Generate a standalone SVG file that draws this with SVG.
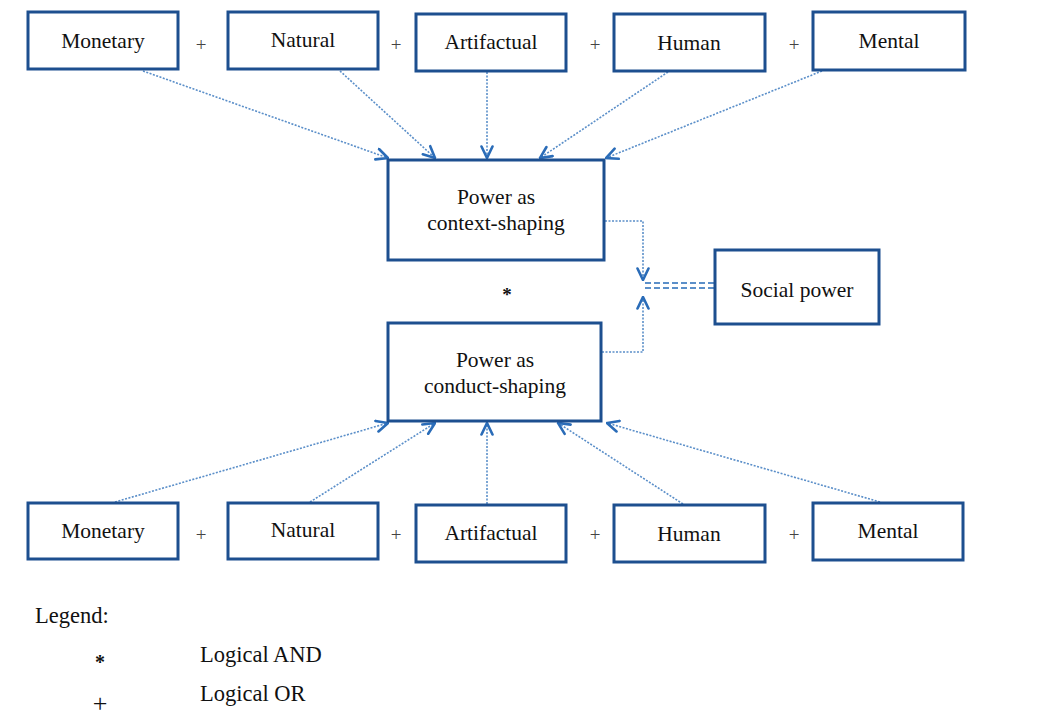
<svg xmlns="http://www.w3.org/2000/svg" width="1039" height="717" viewBox="0 0 1039 717">
<defs>
<style>
.box{fill:#fff;stroke:#1d4f8f;stroke-width:3}
.t{font-family:"Liberation Serif","Times New Roman",serif;font-size:21.5px;fill:#111;text-anchor:middle}
.op{font-family:"Liberation Serif","Times New Roman",serif;font-size:19px;fill:#444;text-anchor:middle}
.lg{font-family:"Liberation Serif","Times New Roman",serif;font-size:22.5px;fill:#111}
.c{fill:none;stroke:#5b8fc9;stroke-width:1.6;stroke-dasharray:2 1.5}
.d{fill:none;stroke:#5b8fc9;stroke-width:1.8;stroke-dasharray:6 3}
</style>
<marker id="ah" viewBox="0 0 14 14" refX="13" refY="7" markerWidth="14" markerHeight="14" markerUnits="userSpaceOnUse" orient="auto">
<path d="M1.5,1.5 L13,7 L1.5,12.5" fill="none" stroke="#2a6cb8" stroke-width="2.6" stroke-linecap="round"/>
</marker>
</defs>
<rect width="1039" height="717" fill="#fff"/>

<g id="connectors">
<line class="c" x1="143" y1="71" x2="388" y2="158" marker-end="url(#ah)"/>
<line class="c" x1="340" y1="71" x2="435" y2="158" marker-end="url(#ah)"/>
<line class="c" x1="487" y1="72" x2="487" y2="158" marker-end="url(#ah)"/>
<line class="c" x1="668" y1="72" x2="540" y2="158" marker-end="url(#ah)"/>
<line class="c" x1="822" y1="71" x2="606" y2="158" marker-end="url(#ah)"/>
<line class="c" x1="115" y1="502" x2="388" y2="423" marker-end="url(#ah)"/>
<line class="c" x1="310" y1="502" x2="435" y2="423" marker-end="url(#ah)"/>
<line class="c" x1="487" y1="504" x2="487" y2="423" marker-end="url(#ah)"/>
<line class="c" x1="683" y1="504" x2="558" y2="423" marker-end="url(#ah)"/>
<line class="c" x1="880" y1="502" x2="607" y2="423" marker-end="url(#ah)"/>
<polyline class="c" points="605,221 643,221 643,280" marker-end="url(#ah)"/>
<polyline class="c" points="602,352 643,352 643,297" marker-end="url(#ah)"/>
<line class="d" x1="645" y1="283" x2="714" y2="283"/>
<line class="d" x1="645" y1="288" x2="714" y2="288"/>
</g>

<g id="top-monetary"><rect class="box" x="28" y="12" width="150" height="57"/><text class="t" x="103" y="48">Monetary</text></g>
<g id="top-natural"><rect class="box" x="228" y="12" width="150" height="57"/><text class="t" x="303" y="47">Natural</text></g>
<g id="top-artifactual"><rect class="box" x="416" y="14" width="150" height="57"/><text class="t" x="491" y="49">Artifactual</text></g>
<g id="top-human"><rect class="box" x="614" y="14" width="151" height="57"/><text class="t" x="689" y="50">Human</text></g>
<g id="top-mental"><rect class="box" x="813" y="12" width="152" height="58"/><text class="t" x="889" y="48">Mental</text></g>

<g id="ops-top">
<text class="op" x="201" y="51">+</text>
<text class="op" x="396" y="51">+</text>
<text class="op" x="595" y="51">+</text>
<text class="op" x="794" y="51">+</text>
</g>

<g id="context-shaping"><rect class="box" x="388" y="160" width="216" height="100"/><text class="t" x="496" y="204">Power as</text><text class="t" x="496" y="230">context-shaping</text></g>
<g id="and-star"><text class="t" x="507" y="301" style="font-weight:bold;font-size:19px">*</text></g>
<g id="conduct-shaping"><rect class="box" x="388" y="323" width="213" height="98"/><text class="t" x="495" y="367">Power as</text><text class="t" x="495" y="393">conduct-shaping</text></g>
<g id="social-power"><rect class="box" x="715" y="250" width="164" height="74"/><text class="t" x="797" y="297">Social power</text></g>

<g id="bot-monetary"><rect class="box" x="28" y="503" width="150" height="56"/><text class="t" x="103" y="538">Monetary</text></g>
<g id="bot-natural"><rect class="box" x="228" y="503" width="150" height="56"/><text class="t" x="303" y="537">Natural</text></g>
<g id="bot-artifactual"><rect class="box" x="416" y="505" width="150" height="57"/><text class="t" x="491" y="540">Artifactual</text></g>
<g id="bot-human"><rect class="box" x="614" y="505" width="151" height="57"/><text class="t" x="689" y="541">Human</text></g>
<g id="bot-mental"><rect class="box" x="813" y="503" width="150" height="57"/><text class="t" x="888" y="538">Mental</text></g>

<g id="ops-bottom">
<text class="op" x="201" y="541">+</text>
<text class="op" x="396" y="541">+</text>
<text class="op" x="595" y="541">+</text>
<text class="op" x="794" y="541">+</text>
</g>

<g id="legend">
<text class="lg" x="35" y="623">Legend:</text>
<text class="lg" x="100" y="669" style="font-weight:bold;font-size:20px;text-anchor:middle">*</text>
<text class="lg" x="200" y="662">Logical AND</text>
<text class="lg" x="100" y="712" style="font-size:26px;text-anchor:middle">+</text>
<text class="lg" x="200" y="701">Logical OR</text>
</g>
</svg>
